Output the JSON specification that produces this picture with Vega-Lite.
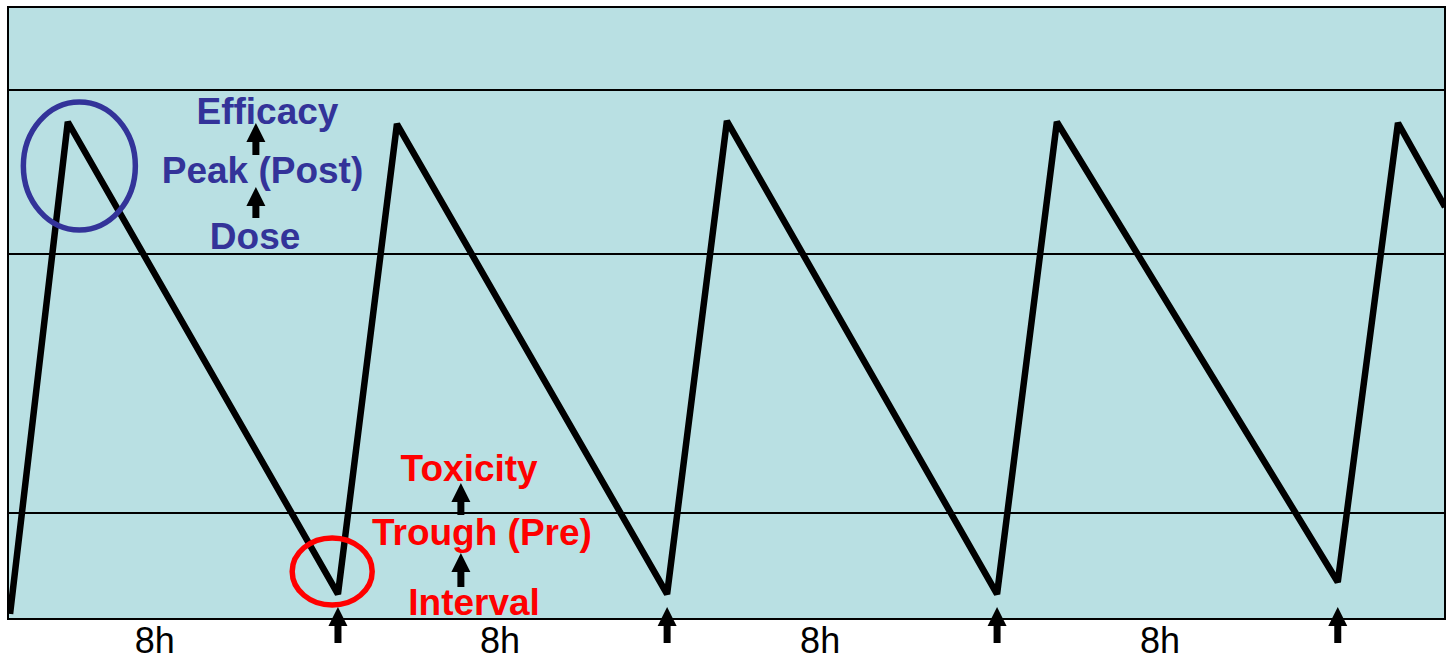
{
  "$schema": "https://vega.github.io/schema/vega-lite/v6.json",
  "width": 1437,
  "height": 612,
  "autosize": {"type": "none"},
  "padding": {"left": 8, "top": 7, "right": 10, "bottom": 45},
  "background": "white",
  "config": {"view": {"fill": "#B9E0E3", "stroke": "#000000", "strokeWidth": 2}},
  "datasets": {
    "curve": [
      {"t": 0.05, "c": 0.82},
      {"t": 1.45, "c": 81.21},
      {"t": 8.0, "c": 4.08},
      {"t": 9.43, "c": 80.88},
      {"t": 15.98, "c": 4.08},
      {"t": 17.43, "c": 81.37},
      {"t": 23.98, "c": 4.08},
      {"t": 25.43, "c": 81.21},
      {"t": 32.24, "c": 6.05},
      {"t": 33.7, "c": 81.05},
      {"t": 34.84, "c": 67.32}
    ],
    "refs": [{"c": 86.44}, {"c": 59.64}, {"c": 17.32}],
    "arrows": [
      {"t": 6.01, "head": 79.49, "tail": 75.82},
      {"t": 6.01, "head": 69.04, "tail": 65.52},
      {"t": 10.98, "head": 20.67, "tail": 16.99},
      {"t": 10.98, "head": 9.23, "tail": 5.23},
      {"t": 8.0, "head": 0.41, "tail": -3.92},
      {"t": 15.98, "head": 0.41, "tail": -3.92},
      {"t": 23.98, "head": 0.41, "tail": -3.92},
      {"t": 32.24, "head": 0.41, "tail": -3.92}
    ],
    "notes": [
      {"t": 6.29, "c": 80.9, "label": "Efficacy", "group": "peak"},
      {"t": 6.17, "c": 71.25, "label": "Peak (Post)", "group": "peak"},
      {"t": 5.99, "c": 60.5, "label": "Dose", "group": "peak"},
      {"t": 11.18, "c": 22.6, "label": "Toxicity", "group": "trough"},
      {"t": 11.49, "c": 12.1, "label": "Trough (Pre)", "group": "trough"},
      {"t": 11.3, "c": 0.7, "label": "Interval", "group": "trough"}
    ],
    "ticks": [
      {"t": 3.56, "c": -5.56, "label": "8h"},
      {"t": 11.93, "c": -5.56, "label": "8h"},
      {"t": 19.69, "c": -5.56, "label": "8h"},
      {"t": 27.93, "c": -5.56, "label": "8h"}
    ],
    "rings": [
      {"t": 1.73, "c": 74.02, "group": "peak"},
      {"t": 7.86, "c": 7.76, "group": "trough"}
    ]
  },
  "layer": [
    {
      "data": {"name": "refs"},
      "mark": {"type": "rule", "color": "#000000", "strokeWidth": 2},
      "encoding": {
        "y": {"field": "c", "type": "quantitative", "scale": {"domain": [0, 100]}, "axis": null}
      }
    },
    {
      "data": {"name": "curve"},
      "mark": {"type": "line", "color": "#000000", "strokeWidth": 6.5, "strokeJoin": "miter", "strokeMiterLimit": 3, "clip": true},
      "encoding": {
        "x": {"field": "t", "type": "quantitative", "scale": {"domain": [0, 34.84]}, "axis": null},
        "y": {"field": "c", "type": "quantitative", "scale": {"domain": [0, 100]}, "axis": null}
      }
    },
    {
      "data": {"name": "rings"},
      "transform": [{"filter": "datum.group === 'peak'"}],
      "mark": {"type": "point", "filled": false, "color": "#333399", "strokeWidth": 5.5, "opacity": 1,
               "shape": "M -0.875 0 A 0.875 1 0 1 0 0.875 0 A 0.875 1 0 1 0 -0.875 0 Z", "size": 16384},
      "encoding": {
        "x": {"field": "t", "type": "quantitative", "scale": {"domain": [0, 34.84]}, "axis": null},
        "y": {"field": "c", "type": "quantitative", "scale": {"domain": [0, 100]}, "axis": null}
      }
    },
    {
      "data": {"name": "rings"},
      "transform": [{"filter": "datum.group === 'trough'"}],
      "mark": {"type": "point", "filled": false, "color": "#FF0000", "strokeWidth": 5.5, "opacity": 1,
               "shape": "M -1 0 A 1 0.84 0 1 0 1 0 A 1 0.84 0 1 0 -1 0 Z", "size": 6400},
      "encoding": {
        "x": {"field": "t", "type": "quantitative", "scale": {"domain": [0, 34.84]}, "axis": null},
        "y": {"field": "c", "type": "quantitative", "scale": {"domain": [0, 100]}, "axis": null}
      }
    },
    {
      "data": {"name": "arrows"},
      "mark": {"type": "rule", "color": "#000000", "strokeWidth": 7, "strokeCap": "butt"},
      "encoding": {
        "x": {"field": "t", "type": "quantitative", "scale": {"domain": [0, 34.84]}, "axis": null},
        "y": {"field": "head", "type": "quantitative", "scale": {"domain": [0, 100]}, "axis": null},
        "y2": {"field": "tail"}
      }
    },
    {
      "data": {"name": "arrows"},
      "mark": {"type": "point", "filled": true, "color": "#000000", "opacity": 1, "strokeWidth": 0,
               "shape": "M 0 -1 L 1 1 L -1 1 Z", "size": 361},
      "encoding": {
        "x": {"field": "t", "type": "quantitative", "scale": {"domain": [0, 34.84]}, "axis": null},
        "y": {"field": "head", "type": "quantitative", "scale": {"domain": [0, 100]}, "axis": null}
      }
    },
    {
      "data": {"name": "notes"},
      "mark": {"type": "text", "font": "Liberation Sans", "fontWeight": "bold", "fontSize": 37, "align": "center", "baseline": "alphabetic"},
      "encoding": {
        "x": {"field": "t", "type": "quantitative", "scale": {"domain": [0, 34.84]}, "axis": null},
        "y": {"field": "c", "type": "quantitative", "scale": {"domain": [0, 100]}, "axis": null},
        "text": {"field": "label"},
        "color": {"field": "group", "type": "nominal", "scale": {"domain": ["peak", "trough"], "range": ["#333399", "#FF0000"]}, "legend": null}
      }
    },
    {
      "data": {"name": "ticks"},
      "mark": {"type": "text", "font": "Liberation Sans", "fontSize": 36, "align": "center", "baseline": "alphabetic", "color": "#000000"},
      "encoding": {
        "x": {"field": "t", "type": "quantitative", "scale": {"domain": [0, 34.84]}, "axis": null},
        "y": {"field": "c", "type": "quantitative", "scale": {"domain": [0, 100]}, "axis": null},
        "text": {"field": "label"}
      }
    }
  ]
}
